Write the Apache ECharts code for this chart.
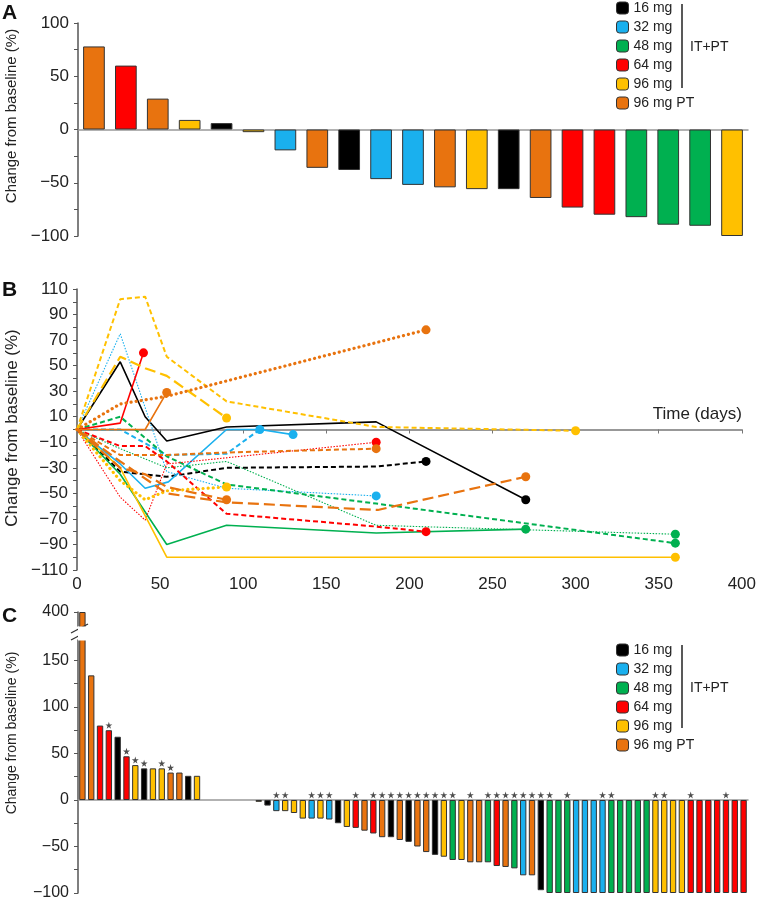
<!DOCTYPE html>
<html><head><meta charset="utf-8">
<script src="https://cdn.jsdelivr.net/npm/echarts@6/dist/echarts.min.js"></script>
<style>html,body{margin:0;padding:0;background:#fff}#c{width:759px;height:904px}</style>
</head><body><div id="c"></div>
<script>
// ---------- shared ----------
const doseNames = ['16 mg', '32 mg', '48 mg', '64 mg', '96 mg', '96 mg PT'];
const palette = ['#000000', '#1ab0ee', '#00b050', '#ff0000', '#ffc000', '#e8730f'];

// ---------- panel A ----------
const aDose = ['96 mg PT','64 mg','96 mg PT','96 mg','16 mg','96 mg','32 mg','96 mg PT','16 mg','32 mg','32 mg',
               '96 mg PT','96 mg','16 mg','96 mg PT','64 mg','64 mg','48 mg','48 mg','48 mg','96 mg'];
const aChange = [78, 60, 29, 9, 6, -2.5, -19.6, -36, -38, -46.6, -52, -54.3, -56, -56, -64.3, -73.3, -80, -82.3, -89.4, -90.4, -100];
const aTickLabels = [-100, -50, 0, 50, 100];
const aTicks = [-100, -75, -50, -25, 0, 25, 50, 75, 100];

// ---------- panel B (day, % change) ----------
const b16Solid   = [[0,0],[26,53],[41,10],[54,-9],[90,2],[180,6],[270,-55]];
const b16Dashed  = [[0,0],[26,-33],[54,-37],[90,-30],[180,-29],[210,-25]];
const b32Solid   = [[0,0],[26,-27],[41,-46],[55,-41],[90,0],[110,0],[130,-4]];
const b32Dashed  = [[0,0],[26,0],[54,-20],[90,-19],[110,0]];
const b32Dotted  = [[0,0],[26,75],[54,-33],[90,-46],[180,-52]];
const b48Solid   = [[0,0],[26,-35],[54,-90],[90,-75],[180,-81],[270,-78]];
const b48Dashed  = [[0,0],[26,10],[54,-21],[90,-43],[180,-58],[360,-89]];
const b48Dotted  = [[0,0],[26,-15],[54,-30],[90,-25],[180,-75],[360,-82]];
const b64Solid   = [[0,0],[26,5],[40,60]];
const b64Dashed  = [[0,0],[26,-13],[41,-13],[54,-25],[90,-66],[180,-76],[210,-80]];
const b64Dotted  = [[0,0],[26,-53],[41,-71],[54,-27],[180,-10]];
const b96Solid   = [[0,0],[26,-30],[54,-100],[360,-100]];
const b96Dashed  = [[0,0],[26,102],[41,104],[54,57],[90,22],[180,2],[300,-1]];
const b96Long    = [[0,0],[26,57],[41,48],[54,42],[90,9]];
const b96Dotted  = [[0,0],[26,-40],[41,-55],[54,-48],[90,-45]];
const bPTSolid   = [[0,0],[41,0],[54,29]];
const bPTDotted  = [[0,0],[26,20],[54,26],[210,78]];
const bPTDashed  = [[0,0],[26,-20],[54,-20],[90,-18],[180,-15]];
const bPTLong    = [[0,0],[26,-25],[54,-50],[90,-57],[181,-63],[270,-37]];
const bPTLong2   = [[0,0],[26,-30],[41,-35],[54,-45],[90,-55]];
const bYLabels = [110, 90, 70, 50, 30, 10, -10, -30, -50, -70, -90, -110];
const bYTicks = [110,100,90,80,70,60,50,40,30,20,10,0,-10,-20,-30,-40,-50,-60,-70,-80,-90,-100,-110];

// ---------- panel C ----------
const cDose = ['96 mg PT','96 mg PT','64 mg','64 mg','16 mg','64 mg','96 mg','16 mg','96 mg','96 mg','96 mg PT','96 mg PT','16 mg','96 mg',
  null,null,null,null,null,null,
  '96 mg','16 mg','32 mg','96 mg','96 mg','96 mg','32 mg','96 mg','32 mg','16 mg','96 mg','64 mg','96 mg PT','64 mg',
  '96 mg PT','16 mg','96 mg PT','16 mg','96 mg PT','96 mg PT','16 mg','96 mg','48 mg','96 mg','96 mg PT','96 mg PT','48 mg','64 mg',
  '96 mg PT','48 mg','32 mg','96 mg PT','16 mg','48 mg','48 mg','48 mg','32 mg','32 mg','32 mg','32 mg','48 mg','48 mg','48 mg','48 mg','48 mg',
  '96 mg','96 mg','96 mg','96 mg','64 mg','64 mg','64 mg','64 mg','64 mg','64 mg','64 mg'];
const cChange = [400,134,80,75,68,47,37.5,34,34,34,29.5,29.5,26,26,
  null,null,null,null,null,null,
  -2,-6,-12,-12,-14,-20,-20,-20,-21,-25,-29,-30,-33,-36,
  -40,-40,-43,-45,-50,-56,-59,-61,-64.5,-64.5,-67,-67,-67,-71,
  -72,-73.5,-81,-81,-97,-100,-100,-100,-100,-100,-100,-100,-100,-100,-100,-100,-100,
  -100,-100,-100,-100,-100,-100,-100,-100,-100,-100,-100];
const cStarred = [3,5,6,7,9,10,22,23,26,27,28,31,33,34,35,36,37,38,39,40,41,42,44,46,47,48,49,50,51,52,53,55,59,60,65,66,69,73];
const cTickLabels = [-100, -50, 0, 50, 100, 150, 400];
const cTicks = [-100,-75,-50,-25,0,25,50,75,100,125,150,400];

// ---------- build ----------
const F = '"Liberation Sans", Arial, Helvetica, sans-serif';
const fmt = v => String(v).replace('-', '\u2212');
const chart = echarts.init(document.getElementById('c'));

function barSeries(doseArr, vals, axisIdx, z) {
  return doseNames.map((d, k) => ({
    type: 'bar', name: d, xAxisIndex: axisIdx, yAxisIndex: axisIdx,
    barGap: '-100%', barCategoryGap: axisIdx === 0 ? '32%' : '28%',
    data: vals.map((v, i) => doseArr[i] === d ? v : null),
    itemStyle: { color: palette[k], borderColor: '#333', borderWidth: 1 },
    z: z, animation: false
  }));
}

const lineStyles = {
  solid: { type: 'solid', width: 1.6 },
  dash: { type: [5, 3], width: 2 },
  longdash: { type: [11, 5], width: 2.2 },
  dotfine: { type: [1.5, 1.5], width: 1.1 },
  dotbig: { type: [0.1, 5], width: 3.2, cap: 'round' }
};
const bSpecs = [
  [b16Solid, 0, 'solid'], [b16Dashed, 0, 'dash'],
  [b32Solid, 1, 'solid'], [b32Dashed, 1, 'dash'], [b32Dotted, 1, 'dotfine'],
  [b48Solid, 2, 'solid'], [b48Dashed, 2, 'dash'], [b48Dotted, 2, 'dotfine'],
  [b64Solid, 3, 'solid'], [b64Dashed, 3, 'dash'], [b64Dotted, 3, 'dotfine'],
  [b96Solid, 4, 'solid'], [b96Dashed, 4, 'dash'], [b96Long, 4, 'longdash'], [b96Dotted, 4, 'dotbig'],
  [bPTSolid, 5, 'solid'], [bPTDotted, 5, 'dotbig'], [bPTDashed, 5, 'dash'], [bPTLong, 5, 'longdash'], [bPTLong2, 5, 'longdash']
];
const lineSeries = bSpecs.map(([pts, k, st], n) => ({
  type: 'line', name: 'B' + n, xAxisIndex: 1, yAxisIndex: 1,
  symbol: 'none', showSymbol: true, showAllSymbol: true,
  data: pts.map((p, i) => i === pts.length - 1
    ? { value: p, symbol: 'circle', symbolSize: 9, itemStyle: { color: palette[k] } }
    : { value: p, symbol: 'none' }),
  lineStyle: Object.assign({ color: palette[k] }, lineStyles[st]),
  itemStyle: { color: palette[k] },
  z: 3, animation: false
}));

const starPath = 'path://M50,0 L61,35 L98,35 L68,57 L79,91 L50,70 L21,91 L32,57 L2,35 L39,35 Z';
const starSeries = {
  type: 'scatter', name: 'stars', xAxisIndex: 2, yAxisIndex: 2,
  data: cStarred.map(i => [i, Math.max(cChange[i], 0)]),
  symbol: starPath, symbolSize: 7, symbolOffset: [0, -5],
  itemStyle: { color: '#222' }, z: 5, animation: false
};

const tickFont = (s) => ({ fontSize: s, fontFamily: F, color: '#222' });
const legendBase = {
  orient: 'vertical', left: 616, padding: 0, itemWidth: 12, itemHeight: 12, itemGap: 5,
  icon: 'roundRect', data: doseNames, selectedMode: false,
  textStyle: { fontSize: 14, fontFamily: F, color: '#222' },
  itemStyle: { borderColor: '#333', borderWidth: 1 }
};

const option = {
  animation: false,
  backgroundColor: '#fff',
  grid: [
    { left: 78, right: 11, top: 23, bottom: 668 },
    { left: 77, right: 13, top: 289, bottom: 334 },
    { left: 78, right: 11, top: 612, bottom: 11 }
  ],
  legend: [
    Object.assign({}, legendBase, { top: 1 }),
    Object.assign({}, legendBase, { top: 643 })
  ],
  xAxis: [
    { gridIndex: 0, type: 'category', data: aChange.map((_, i) => i),
      axisTick: { show: false }, axisLabel: { show: false },
      axisLine: { lineStyle: { color: '#999', width: 1.5 } } },
    { gridIndex: 1, type: 'value', min: 0, max: 400, interval: 50,
      axisLine: { onZero: true, lineStyle: { color: '#777', width: 1.5 } },
      axisTick: { show: true, length: 4, lineStyle: { color: '#777' } },
      axisLabel: Object.assign({ margin: 6 }, tickFont(17)),
      splitLine: { show: false },
      name: 'Time (days)', nameLocation: 'end', nameGap: 0,
      nameTextStyle: { fontSize: 17, fontFamily: F, color: '#222', align: 'right', verticalAlign: 'bottom', padding: [0, 0, 7, 0] } },
    { gridIndex: 2, type: 'category', data: cChange.map((_, i) => i),
      axisTick: { show: false }, axisLabel: { show: false },
      axisLine: { lineStyle: { color: '#999', width: 1.5 } } }
  ],
  yAxis: [
    { gridIndex: 0, type: 'value', min: -100, max: 100,
      axisLine: { show: true, lineStyle: { color: '#555', width: 1.5 } },
      axisTick: { show: true, length: 4, customValues: aTicks, lineStyle: { color: '#555' } },
      axisLabel: Object.assign({ customValues: aTickLabels, formatter: fmt, margin: 9 }, tickFont(17)),
      splitLine: { show: false } },
    { gridIndex: 1, type: 'value', min: -110, max: 110,
      axisLine: { show: true, lineStyle: { color: '#555', width: 1.5 } },
      axisTick: { show: true, length: 4, customValues: bYTicks, lineStyle: { color: '#555' } },
      axisLabel: Object.assign({ customValues: bYLabels, formatter: fmt, margin: 9 }, tickFont(17)),
      splitLine: { show: false } },
    { gridIndex: 2, type: 'value', min: -100, max: 400,
      breaks: [{ start: 172, end: 385, gap: '5%' }],
      breakArea: { show: true, zigzagAmplitude: 0, expandOnClick: false,
        itemStyle: { color: '#fff', borderColor: 'rgba(0,0,0,0)', borderWidth: 0, opacity: 1 } },
      axisLine: { show: true, lineStyle: { color: '#555', width: 1.5 } },
      axisTick: { show: true, length: 4, customValues: cTicks, lineStyle: { color: '#555' } },
      axisLabel: Object.assign({ customValues: cTickLabels, formatter: fmt, margin: 9 }, tickFont(16)),
      splitLine: { show: false } }
  ],
  series: [].concat(barSeries(aDose, aChange, 0, 2), lineSeries, barSeries(cDose, cChange, 2, 2), [starSeries]),
  graphic: [
    { type: 'text', left: 2, top: 3, style: { text: 'A', font: 'bold 21px ' + F, fill: '#111' } },
    { type: 'text', left: 2, top: 280, style: { text: 'B', font: 'bold 21px ' + F, fill: '#111' } },
    { type: 'text', left: 2, top: 606, style: { text: 'C', font: 'bold 21px ' + F, fill: '#111' } },
    { type: 'text', x: 12, y: 116, rotation: Math.PI / 2,
      style: { text: 'Change from baseline (%)', font: '15px ' + F, fill: '#222', textAlign: 'center', textVerticalAlign: 'middle', align: 'center', verticalAlign: 'middle' } },
    { type: 'text', x: 12, y: 428, rotation: Math.PI / 2,
      style: { text: 'Change from baseline (%)', font: '17px ' + F, fill: '#222', textAlign: 'center', textVerticalAlign: 'middle', align: 'center', verticalAlign: 'middle' } },
    { type: 'text', x: 12, y: 733, rotation: Math.PI / 2,
      style: { text: 'Change from baseline (%)', font: '14px ' + F, fill: '#222', textAlign: 'center', textVerticalAlign: 'middle', align: 'center', verticalAlign: 'middle' } },
    { type: 'line', z: 100, shape: { x1: 71, y1: 640, x2: 88, y2: 631 }, style: { stroke: '#333', lineWidth: 1.3 } },
    { type: 'line', z: 100, shape: { x1: 71, y1: 633, x2: 88, y2: 624 }, style: { stroke: '#333', lineWidth: 1.3 } },
    { type: 'line', shape: { x1: 682, y1: 4, x2: 682, y2: 88 }, style: { stroke: '#222', lineWidth: 1.5 } },
    { type: 'text', left: 690, top: 40, style: { text: 'IT+PT', font: '14px ' + F, fill: '#222' } },
    { type: 'line', shape: { x1: 682, y1: 645, x2: 682, y2: 728 }, style: { stroke: '#222', lineWidth: 1.5 } },
    { type: 'text', left: 690, top: 681, style: { text: 'IT+PT', font: '14px ' + F, fill: '#222' } }
  ]
};
chart.setOption(option);
</script></body></html>
